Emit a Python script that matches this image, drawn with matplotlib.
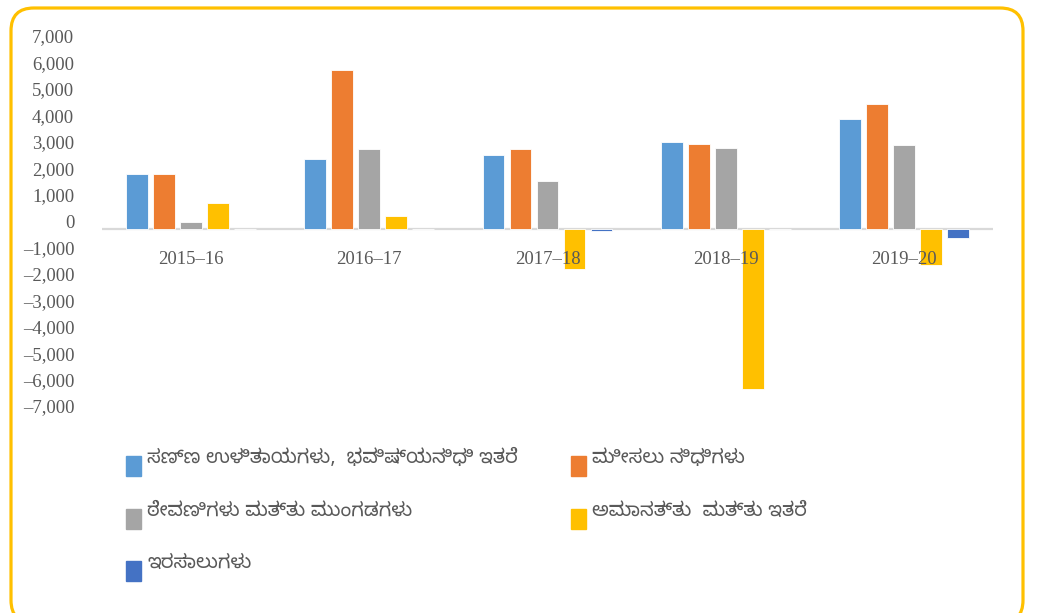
import matplotlib
matplotlib.use('Agg')
import matplotlib.pyplot as plt
import matplotlib.transforms as mtrans
from matplotlib.patches import FancyBboxPatch, Rectangle
import numpy as np

### DATA ###
years = ['2015–16', '2016–17', '2017–18', '2018–19', '2019–20']
series_names = [
    'ಸಣ್ಣ ಉಳಿತಾಯಗಳು,  ಭವಿಷ್ಯನಿಧಿ ಇತರೆ',
    'ಮೀಸಲು ನಿಧಿಗಳು',
    'ಠೇವಣಿಗಳು ಮತ್ತು ಮುಂಗಡಗಳು',
    'ಅಮಾನತ್ತು  ಮತ್ತು ಇತರೆ',
    'ಇರಸಾಲುಗಳು',
]
small_savings = [2080, 2650, 2810, 3290, 4150]
reserve_funds = [2080, 6000, 3010, 3200, 4730]
deposits_advances = [280, 3040, 1830, 3070, 3170]
suspense_misc = [1000, 490, -1500, -6070, -1360]
remittances = [0, 0, -60, 0, -350]
yticks = list(range(-7000, 8000, 1000))

colors = ['#5B9BD5', '#ED7D31', '#A5A5A5', '#FFC000', '#4472C4']
text_col = '#595959'

### PLOT ###
W, H = 1037, 613
fig = plt.figure(figsize=(W / 100, H / 100), dpi=100)

# yellow rounded frame
frame = FancyBboxPatch((11 / W, -10 / H), 1012 / W, 613 / H + 2 / H,
                       boxstyle='round,pad=0,rounding_size=0.022',
                       transform=fig.transFigure, fill=False,
                       edgecolor='#FFC000', linewidth=2.3, mutation_aspect=W / H)
fig.patches.append(frame)

ax = fig.add_axes([102 / W, 199 / H, 891 / W, 370 / H])
all_series = [small_savings, reserve_funds, deposits_advances, suspense_misc, remittances]
x = np.arange(len(years))
pitch = 0.1515
bw = 0.122
for j, vals in enumerate(all_series):
    ax.bar(x + (j - 2) * pitch, vals, width=bw, color=colors[j],
           edgecolor='white', linewidth=0.6, zorder=2)

ax.axhline(0, color='#D9D9D9', linewidth=1.6, zorder=1)
ax.set_xlim(-0.5, len(years) - 0.5)
ax.set_ylim(-7000, 7000)
for s in ax.spines.values():
    s.set_visible(False)
ax.set_xticks([])
ax.set_yticks(yticks)
ax.set_yticklabels(['{:,}'.format(v).replace('-', '–') for v in yticks],
                   fontsize=13.5, color=text_col, family='Liberation Serif')
ax.tick_params(axis='y', length=0, pad=20)
shift = mtrans.ScaledTranslation(0, 8 / 100, fig.dpi_scale_trans)
for lab in ax.get_yticklabels():
    lab.set_transform(lab.get_transform() + shift)

lab_tr = mtrans.offset_copy(ax.transData, fig=fig, y=-30, units='dots')
for i, yr in enumerate(years):
    ax.text(i, 0, yr, transform=lab_tr, ha='center', va='center',
            fontsize=13.5, color=text_col, family='Liberation Serif', zorder=3)

# legend, filled row by row like the source
kn_fonts = ['Noto Sans Kannada', 'Noto Sans', 'DejaVu Sans']
col_x = [126, 571]
row_y = [466, 519, 571]
for k, name in enumerate(series_names):
    cx = col_x[k % 2]
    cy = row_y[k // 2]
    fig.patches.append(Rectangle((cx / W, (H - cy - 10) / H), 15 / W, 20 / H,
                                 transform=fig.transFigure, color=colors[k]))
    fig.text((cx + 21) / W, (H - cy + 8) / H, name, fontsize=14,
             color=text_col, va='center', ha='left', family=kn_fonts)

fig.savefig('out.png', dpi=100)
